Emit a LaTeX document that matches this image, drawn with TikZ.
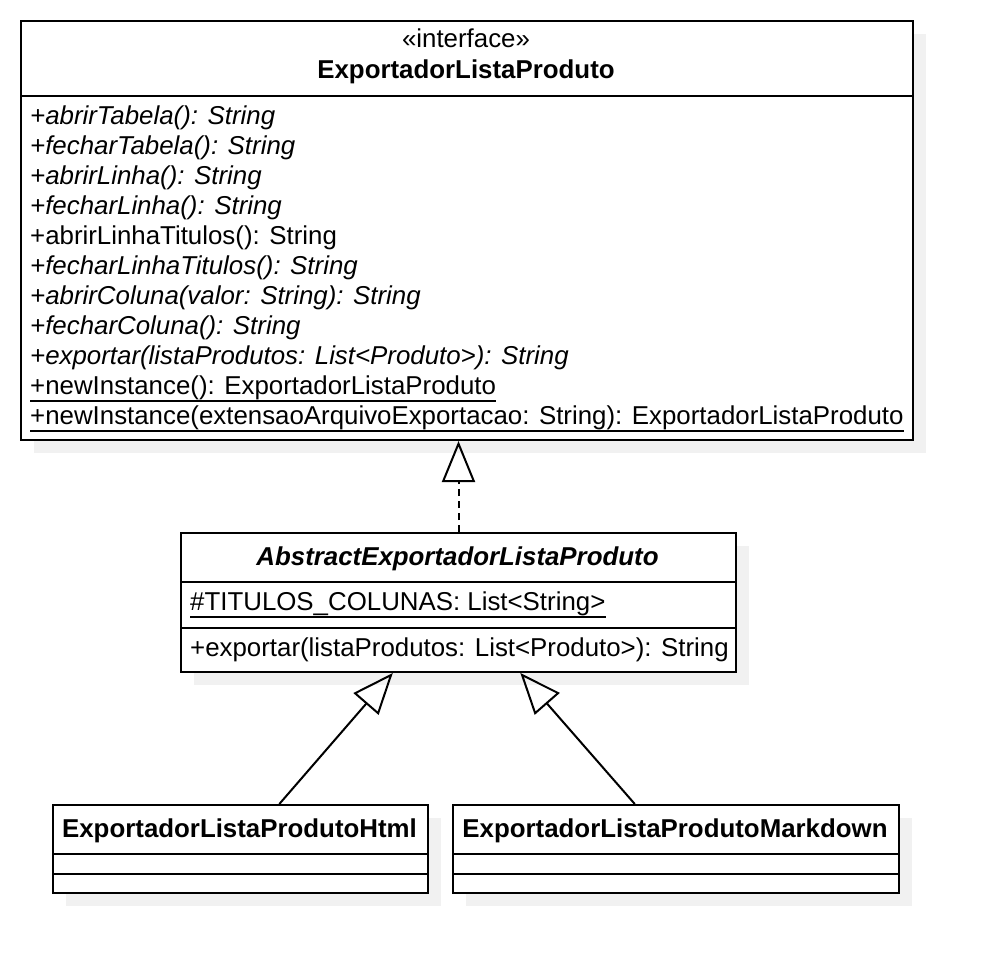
\documentclass[tikz,border=0pt]{standalone}
\usepackage{fontspec}
\setmainfont{Liberation Sans}
\usetikzlibrary{arrows.meta,calc}
\definecolor{shadowgray}{RGB}{241,241,241}
\newcommand{\umlfont}{\fontsize{25.85}{30}\selectfont}
\begin{document}
\begin{tikzpicture}[x=1pt,y=-1pt,
  shadowfill/.style={fill=shadowgray, draw=none},
  umlbox/.style={draw, line width=2pt, fill=white, inner sep=0pt, anchor=north west},
  sepline/.style={line width=2pt},
  txt/.style={inner sep=0pt, font=\umlfont},
  mline/.style={txt, anchor=base west},
  uline/.style={line width=2pt},
  realize/.style={line width=2pt, dash pattern=on 7pt off 5pt, -{Triangle[open,length=41pt,width=33pt]}},
  gen/.style={line width=2pt, -{Triangle[open,length=41pt,width=33pt]}}]
\useasboundingbox (0,0) rectangle (990,972);

% shadows
\fill[shadowfill] (34,34) rectangle (926,453);
\fill[shadowfill] (194,546) rectangle (749,685);
\fill[shadowfill] (66,818) rectangle (441,906);
\fill[shadowfill] (466,818) rectangle (912,906);

% interface box
\node[umlbox, minimum width=892pt, minimum height=419pt] (iface) at (20,20) {};
\draw[sepline] (20,96) -- (912,96);
\node[txt, anchor=base] (st) at (466,47) {«interface»};
\node[txt, anchor=base, font=\umlfont\bfseries] (iname) at (466,78) {ExportadorListaProduto};
\node[mline] (m1) at (30,124) {\itshape +abrirTabela(): String};
\node[mline] (m2) at (30,154) {\itshape +fecharTabela(): String};
\node[mline] (m3) at (30,184) {\itshape +abrirLinha(): String};
\node[mline] (m4) at (30,214) {\itshape +fecharLinha(): String};
\node[mline] (m5) at (30,244) {+abrirLinhaTitulos(): String};
\node[mline] (m6) at (30,274) {\itshape +fecharLinhaTitulos(): String};
\node[mline] (m7) at (30,304) {\itshape +abrirColuna(valor: String): String};
\node[mline] (m8) at (30,334) {\itshape +fecharColuna(): String};
\node[mline] (m9) at (30,364) {\itshape +exportar(listaProdutos: List<Produto>): String};
\node[mline] (m10) at (30,394) {+newInstance(): ExportadorListaProduto};
\node[mline] (m11) at (30,424) {+newInstance(extensaoArquivoExportacao: String): ExportadorListaProduto};
\draw[uline] ([yshift=-6.5pt]m10.base west) -- ([yshift=-6.5pt]m10.base east);
\draw[uline] ([yshift=-6.5pt]m11.base west) -- ([yshift=-6.5pt]m11.base east);

% abstract class box
\node[umlbox, minimum width=555pt, minimum height=139pt] (abs) at (180,532) {};
\draw[sepline] (180,582) -- (735,582);
\draw[sepline] (180,628) -- (735,628);
\node[txt, anchor=base, font=\umlfont\bfseries\itshape] (aname) at (457.5,565) {AbstractExportadorListaProduto};
\node[mline] (att) at (190,610) {\#TITULOS\_COLUNAS: List<String>};
\draw[uline] ([yshift=-6.5pt]att.base west) -- ([yshift=-6.5pt]att.base east);
\node[mline] (am) at (190,656) {+exportar(listaProdutos: List<Produto>): String};

% Html box
\node[umlbox, minimum width=375pt, minimum height=88pt] (html) at (52,804) {};
\draw[sepline] (52,854) -- (427,854);
\draw[sepline] (52,874) -- (427,874);
\node[txt, anchor=base, font=\umlfont\bfseries] (hname) at (239.5,837) {ExportadorListaProdutoHtml};

% Markdown box
\node[umlbox, minimum width=446pt, minimum height=88pt] (md) at (452,804) {};
\draw[sepline] (452,854) -- (898,854);
\draw[sepline] (452,874) -- (898,874);
\node[txt, anchor=base, font=\umlfont\bfseries] (mname) at (675,837) {ExportadorListaProdutoMarkdown};

% connectors
\draw[realize] (abs.north) -- (abs.north |- iface.south);
\coordinate (h1) at ($(html.north west)!0.603!(html.north east)$);
\coordinate (a1) at ($(abs.south west)!0.382!(abs.south east)$);
\coordinate (h2) at ($(md.north west)!0.408!(md.north east)$);
\coordinate (a2) at ($(abs.south west)!0.611!(abs.south east)$);
\draw[gen] (h1) -- (a1);
\draw[gen] (h2) -- (a2);
\end{tikzpicture}
\end{document}
